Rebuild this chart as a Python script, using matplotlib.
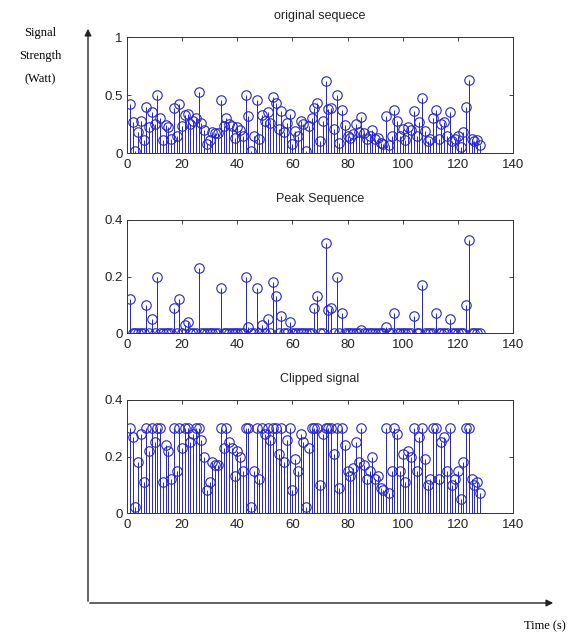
import numpy as np
import matplotlib
matplotlib.use("Agg")
import matplotlib.pyplot as plt

# ---- data ----
time_idx = list(range(1, 129))

original = [0.42, 0.27, 0.02, 0.18, 0.28, 0.11, 0.40, 0.22, 0.35, 0.25,
            0.50, 0.30, 0.11, 0.24, 0.22, 0.12, 0.39, 0.15, 0.42, 0.23,
            0.33, 0.34, 0.25, 0.28, 0.30, 0.53, 0.26, 0.20, 0.08, 0.11,
            0.18, 0.17, 0.17, 0.46, 0.23, 0.30, 0.25, 0.23, 0.13, 0.22,
            0.20, 0.15, 0.50, 0.32, 0.02, 0.15, 0.46, 0.12, 0.33, 0.28,
            0.35, 0.26, 0.48, 0.43, 0.21, 0.36, 0.18, 0.26, 0.34, 0.08,
            0.19, 0.15, 0.28, 0.25, 0.02, 0.23, 0.30, 0.39, 0.43, 0.10,
            0.28, 0.62, 0.38, 0.39, 0.21, 0.50, 0.09, 0.37, 0.24, 0.15,
            0.13, 0.16, 0.25, 0.18, 0.31, 0.17, 0.12, 0.15, 0.20, 0.12,
            0.13, 0.09, 0.08, 0.32, 0.07, 0.15, 0.37, 0.28, 0.15, 0.21,
            0.11, 0.22, 0.20, 0.36, 0.15, 0.27, 0.47, 0.19, 0.10, 0.12,
            0.30, 0.37, 0.12, 0.25, 0.27, 0.15, 0.35, 0.10, 0.12, 0.15,
            0.05, 0.18, 0.40, 0.63, 0.12, 0.10, 0.11, 0.07]

peak = [0.12, 0, 0, 0, 0, 0, 0.10, 0, 0.05, 0,
        0.20, 0, 0, 0, 0, 0, 0.09, 0, 0.12, 0,
        0.03, 0.04, 0, 0, 0, 0.23, 0, 0, 0, 0,
        0, 0, 0, 0.16, 0, 0, 0, 0, 0, 0,
        0, 0, 0.20, 0.02, 0, 0, 0.16, 0, 0.03, 0,
        0.05, 0, 0.18, 0.13, 0, 0.06, 0, 0, 0.04, 0,
        0, 0, 0, 0, 0, 0, 0, 0.09, 0.13, 0,
        0, 0.32, 0.08, 0.09, 0, 0.20, 0, 0.07, 0, 0,
        0, 0, 0, 0, 0.01, 0, 0, 0, 0, 0,
        0, 0, 0, 0.02, 0, 0, 0.07, 0, 0, 0,
        0, 0, 0, 0.06, 0, 0, 0.17, 0, 0, 0,
        0, 0.07, 0, 0, 0, 0, 0.05, 0, 0, 0,
        0, 0, 0.10, 0.33, 0, 0, 0, 0]

clipped = [0.30, 0.27, 0.02, 0.18, 0.28, 0.11, 0.30, 0.22, 0.30, 0.25,
           0.30, 0.30, 0.11, 0.24, 0.22, 0.12, 0.30, 0.15, 0.30, 0.23,
           0.30, 0.30, 0.25, 0.28, 0.30, 0.30, 0.26, 0.20, 0.08, 0.11,
           0.18, 0.17, 0.17, 0.30, 0.23, 0.30, 0.25, 0.23, 0.13, 0.22,
           0.20, 0.15, 0.30, 0.30, 0.02, 0.15, 0.30, 0.12, 0.30, 0.28,
           0.30, 0.26, 0.30, 0.30, 0.21, 0.30, 0.18, 0.26, 0.30, 0.08,
           0.19, 0.15, 0.28, 0.25, 0.02, 0.23, 0.30, 0.30, 0.30, 0.10,
           0.28, 0.30, 0.30, 0.30, 0.21, 0.30, 0.09, 0.30, 0.24, 0.15,
           0.13, 0.16, 0.25, 0.18, 0.30, 0.17, 0.12, 0.15, 0.20, 0.12,
           0.13, 0.09, 0.08, 0.30, 0.07, 0.15, 0.30, 0.28, 0.15, 0.21,
           0.11, 0.22, 0.20, 0.30, 0.15, 0.27, 0.30, 0.19, 0.10, 0.12,
           0.30, 0.30, 0.12, 0.25, 0.27, 0.15, 0.30, 0.10, 0.12, 0.15,
           0.05, 0.18, 0.30, 0.30, 0.12, 0.10, 0.11, 0.07]

titles = ["original sequece", "Peak Sequence", "Clipped signal"]
x_ticks = [0, 20, 40, 60, 80, 100, 120, 140]
y_ticks_list = [[0, 0.5, 1], [0, 0.2, 0.4], [0, 0.2, 0.4]]
y_tick_labels_list = [["0", "0.5", "1"], ["0", "0.2", "0.4"], ["0", "0.2", "0.4"]]
y_limits = [(0, 1), (0, 0.4), (0, 0.4)]
series = [original, peak, clipped]

# ---- figure ----
W, H = 573, 639
fig = plt.figure(figsize=(W / 100, H / 100), dpi=100)
fig.patch.set_facecolor("white")

blue = "#2424d4"
axes_px = [(37, 153), (220, 333), (400, 513)]  # top, bottom in pixels
left_px, right_px = 127, 513

for k in range(3):
    top, bot = axes_px[k]
    ax = fig.add_axes([left_px / W, 1 - bot / H, (right_px - left_px) / W, (bot - top) / H])
    m, s, b = ax.stem(time_idx, series[k], linefmt="-", markerfmt="o", basefmt=" ")
    plt.setp(s, color=blue, linewidth=0.7)
    plt.setp(m, markerfacecolor="none", markeredgecolor=blue, markersize=6.8, markeredgewidth=0.8)
    b.set_visible(False)
    ax.set_xlim(0, 140)
    ax.set_ylim(*y_limits[k])
    ax.set_xticks(x_ticks)
    ax.set_xticklabels([str(t) for t in x_ticks])
    ax.set_yticks(y_ticks_list[k])
    ax.set_yticklabels(y_tick_labels_list[k])
    ax.tick_params(direction="in", top=True, right=True, length=3, width=0.6,
                   labelsize=9.5, colors="#222222")
    ax.tick_params(axis="x", pad=4)
    ax.tick_params(axis="y", pad=3)
    for sp in ax.spines.values():
        sp.set_linewidth(0.7)
        sp.set_color("#333333")
    ax.set_title(titles[k], fontsize=9, pad=13, family="Liberation Sans", color="#222222")
    for lab in ax.get_xticklabels() + ax.get_yticklabels():
        lab.set_family("Liberation Sans")

# ---- outer arrow frame ----
ov = fig.add_axes([0, 0, 1, 1], facecolor="none")
ov.set_xlim(0, W)
ov.set_ylim(H, 0)
ov.axis("off")
ov.annotate("", xy=(88, 26), xytext=(88, 604),
            arrowprops=dict(arrowstyle="-|>", color="#222222", lw=1.0, mutation_scale=10))
ov.annotate("", xy=(556, 603), xytext=(87, 603),
            arrowprops=dict(arrowstyle="-|>", color="#222222", lw=1.0, mutation_scale=10))
ov.text(40, 33, "Signal", ha="center", va="center", fontsize=9, family="Liberation Serif")
ov.text(40, 56, "Strength", ha="center", va="center", fontsize=9, family="Liberation Serif")
ov.text(40, 79, "(Watt)", ha="center", va="center", fontsize=9, family="Liberation Serif")
ov.text(545, 626, "Time (s)", ha="center", va="center", fontsize=9, family="Liberation Serif")

fig.savefig("out.png", dpi=100)
